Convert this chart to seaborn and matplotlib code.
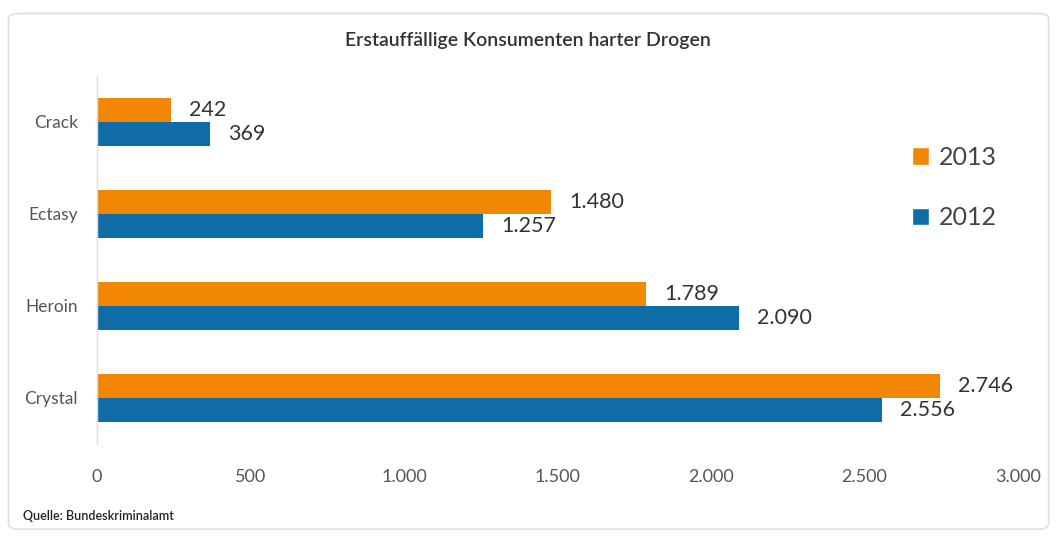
import matplotlib
matplotlib.use("Agg")
import matplotlib.pyplot as plt
from matplotlib.patches import FancyBboxPatch, Patch
import pandas as pd
import seaborn as sns

drugs = ["Crack", "Ectasy", "Heroin", "Crystal"]
years = ["2013", "2012"]
v2013 = [242, 1480, 1789, 2746]
v2012 = [369, 1257, 2090, 2556]
xticks = [0, 500, 1000, 1500, 2000, 2500, 3000]

colors = {"2013": "#F28705", "2012": "#0F6CA6"}

df = pd.DataFrame({
    "Droge": drugs * 2,
    "Jahr": ["2013"] * 4 + ["2012"] * 4,
    "Anzahl": v2013 + v2012,
})

sns.set_theme(style="white")
plt.rcParams["font.family"] = ["Lato", "DejaVu Sans"]

fig = plt.figure(figsize=(10.56, 5.4), dpi=100)
ax = fig.add_axes([0.092, 0.178, 0.872, 0.682])

sns.barplot(data=df, y="Droge", x="Anzahl", hue="Jahr", order=drugs,
            hue_order=years, palette=colors, orient="h", width=0.52,
            saturation=1, linewidth=0, ax=ax, legend=False)

def fmt(v):
    return f"{v:,}".replace(",", ".")

for cont in ax.containers:
    ax.bar_label(cont, labels=[fmt(int(b.get_width())) for b in cont],
                 padding=13, fontsize=15.5, color="#333333")

ax.set_xlim(0, 3000)
ax.set_ylim(3.5, -0.5)
ax.set_xticks(xticks)
ax.set_xticklabels([fmt(t) for t in xticks], fontsize=13, color="#555555")
ax.tick_params(axis="x", pad=18, length=0)
ax.tick_params(axis="y", pad=14, length=0, labelsize=12.5, labelcolor="#555555")
ax.set_xlabel("")
ax.set_ylabel("")
for s in ["top", "right", "bottom"]:
    ax.spines[s].set_visible(False)
ax.spines["left"].set_color("#dddddd")
ax.spines["left"].set_linewidth(1)

handles = [Patch(facecolor=colors[y], label=y) for y in years]
ax.legend(handles=handles, loc="upper left", bbox_to_anchor=(0.86, 0.87),
          frameon=False, fontsize=18, labelcolor="#444444", handlelength=0.7,
          handleheight=0.7, handletextpad=0.4, labelspacing=1.5)

fig.text(0.5, 0.925, "Erstauffällige Konsumenten harter Drogen", ha="center",
         va="center", fontsize=14, fontweight="semibold", color="#333333")
fig.text(0.022, 0.045, "Quelle: Bundeskriminalamt", ha="left", va="center",
         fontsize=9, fontweight="semibold", color="#222222")

fig.patches.append(FancyBboxPatch((0.008, 0.02), 0.985, 0.955,
                                  boxstyle="round,pad=0,rounding_size=0.01",
                                  transform=fig.transFigure, fill=False,
                                  edgecolor="#e0e0e0", linewidth=1.2))

fig.savefig("out.png", dpi=100)
